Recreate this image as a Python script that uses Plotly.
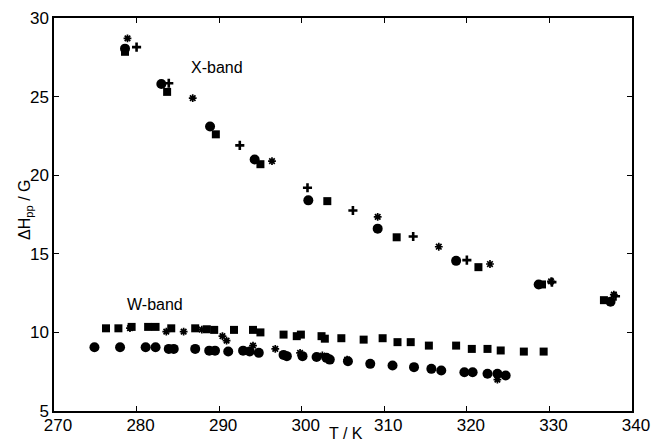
import plotly.graph_objects as go

# X-band data
xb_circ_T = [278.6, 283.0, 288.9, 294.3, 300.8, 309.2, 318.7, 328.7, 337.4]
xb_circ_H = [28.05, 25.8, 23.1, 21.0, 18.4, 16.6, 14.55, 13.05, 11.95]
xb_sq_T = [278.6, 283.7, 289.6, 295.0, 303.1, 311.5, 321.4, 329.1, 336.6]
xb_sq_H = [27.85, 25.3, 22.6, 20.7, 18.35, 16.05, 14.15, 13.05, 12.05]
xb_plus_T = [280.0, 283.9, 292.5, 300.7, 306.2, 313.5, 320.0, 330.3, 338.0]
xb_plus_H = [28.15, 25.85, 21.9, 19.2, 17.75, 16.1, 14.6, 13.2, 12.3]
xb_ast_T = [278.9, 286.8, 296.4, 309.2, 316.6, 322.8, 330.2, 337.8]
xb_ast_H = [28.7, 24.9, 20.9, 17.35, 15.45, 14.35, 13.25, 12.4]

# W-band data
wb_sq_T = [276.3, 277.8, 279.4, 281.4, 282.3, 284.2, 287.1, 288.5, 289.4, 291.8,
           294.1, 295.0, 297.8, 299.4, 299.9, 302.4, 302.8, 304.8, 307.5, 309.8,
           311.6, 313.2, 315.4, 318.7, 320.6, 322.5, 324.1, 326.9, 329.3]
wb_sq_H = [10.26, 10.26, 10.35, 10.35, 10.35, 10.26, 10.26, 10.2, 10.16, 10.16,
           10.16, 10.0, 9.86, 9.76, 9.86, 9.76, 9.6, 9.63, 9.54, 9.63,
           9.38, 9.38, 9.16, 9.16, 8.95, 8.95, 8.85, 8.78, 8.78]
wb_circ_T = [274.9, 278.0, 281.1, 282.3, 283.9, 284.5, 287.1, 288.8, 289.5, 291.1,
             292.9, 293.7, 294.8, 297.8, 298.2, 300.1, 301.8, 303.0, 303.4, 305.6,
             308.3, 311.0, 313.6, 315.7, 316.9, 319.7, 320.7, 322.5, 323.7, 324.7]
wb_circ_H = [9.06, 9.06, 9.06, 9.06, 8.95, 8.95, 8.95, 8.84, 8.84, 8.78,
             8.84, 8.78, 8.70, 8.57, 8.49, 8.49, 8.43, 8.38, 8.27, 8.17,
             8.0, 7.89, 7.79, 7.68, 7.58, 7.47, 7.47, 7.37, 7.37, 7.26]
wb_ast_T = [279.2, 283.6, 285.7, 287.9, 290.4, 290.9, 294.1, 296.8, 299.8, 302.5, 305.5, 323.7]
wb_ast_H = [10.27, 10.05, 10.05, 10.18, 9.76, 9.48, 9.16, 8.95, 8.70, 8.53, 8.27, 7.0]

x_ticks = [270, 280, 290, 300, 310, 320, 330, 340]
y_ticks = [5, 10, 15, 20, 25, 30]

FONT = "Liberation Sans, Arial, sans-serif"

def circ(x, y):
    return go.Scatter(x=x, y=y, mode="markers", showlegend=False,
                      marker=dict(symbol="circle", size=10, color="black", line=dict(width=0)))

def sq(x, y):
    return go.Scatter(x=x, y=y, mode="markers", showlegend=False,
                      marker=dict(symbol="square", size=8, color="black", line=dict(width=0)))

def plus(x, y):
    return go.Scatter(x=x, y=y, mode="markers", showlegend=False,
                      marker=dict(symbol="cross-thin", size=6.5, color="black",
                                  line=dict(width=2.6, color="black")))

def ast(x, y):
    return go.Scatter(x=x, y=y, mode="markers", showlegend=False,
                      marker=dict(symbol="asterisk", size=6.5, color="black",
                                  line=dict(width=1.7, color="black")))

fig = go.Figure()
fig.add_trace(sq(xb_sq_T, xb_sq_H))
fig.add_trace(circ(xb_circ_T, xb_circ_H))
fig.add_trace(plus(xb_plus_T, xb_plus_H))
fig.add_trace(ast(xb_ast_T, xb_ast_H))
fig.add_trace(sq(wb_sq_T, wb_sq_H))
fig.add_trace(circ(wb_circ_T, wb_circ_H))
fig.add_trace(ast(wb_ast_T, wb_ast_H))

fig.add_annotation(x=289.8, y=26.85, text="X-band", showarrow=False,
                   font=dict(family=FONT, size=16, color="black"))
fig.add_annotation(x=282.2, y=11.76, text="W-band", showarrow=False,
                   font=dict(family=FONT, size=16, color="black"))

# axis titles as annotations (positioned as in the reference)
fig.add_annotation(xref="paper", yref="paper", x=(346 - 54) / 578, y=(411 - 433) / 393,
                   text="T / K", showarrow=False, xanchor="center", yanchor="middle",
                   font=dict(family=FONT, size=16, color="black"))
fig.add_annotation(xref="paper", yref="paper", x=(25 - 54) / 578, y=(411 - 210) / 393,
                   text="ΔH<sub>pp</sub> / G", showarrow=False, textangle=-90,
                   xanchor="center", yanchor="middle",
                   font=dict(family=FONT, size=16, color="black"))

axis_common = dict(showline=True, linecolor="black", linewidth=1.5, mirror="ticks",
                   ticks="inside", ticklen=5, tickcolor="black", tickwidth=1,
                   showgrid=False, zeroline=False, automargin=False,
                   tickfont=dict(family=FONT, size=17, color="black"))

fig.update_xaxes(range=[270, 340], tickvals=x_ticks, ticktext=[str(v) for v in x_ticks],
                 ticklabelshift=4, ticklabelstandoff=-2, **axis_common)
fig.update_yaxes(range=[5, 30], tickvals=y_ticks, ticktext=[str(v) for v in y_ticks],
                 **axis_common)

fig.update_layout(width=652, height=441, margin=dict(l=54, r=20, t=18, b=30),
                  plot_bgcolor="white", paper_bgcolor="white")

fig.write_html("out.html")
